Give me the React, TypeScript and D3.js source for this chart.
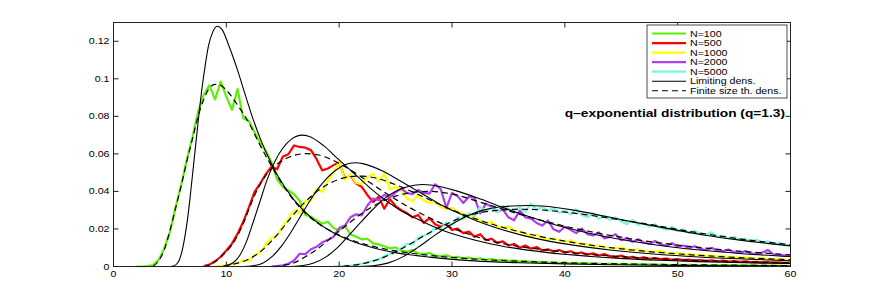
import * as d3 from 'd3';

// ---- data ----
const xTicks = [0, 10, 20, 30, 40, 50, 60];
const yTicks = [0, 0.02, 0.04, 0.06, 0.08, 0.1, 0.12];
const yTickLabels = ['0', '0.02', '0.04', '0.06', '0.08', '0.1', '0.12'];
const seriesNames = ['N=100', 'N=500', 'N=1000', 'N=2000', 'N=5000'];
const seriesColors = ['#5cf000', '#ff0000', '#ffff00', '#b23cf2', '#7df4dc'];
const title = 'q\u2013exponential distribution (q=1.3)';

// empirical histograms, bins every 0.5 starting at empStart
const binStep = 0.5;
const empStart = [2, 8, 9, 14, 19.5];
const emp100 = [
  0, 0, 0.0002, 0.0008, 0.0035, 0.0095, 0.0185, 0.0315, 0.0435, 0.057,
  0.069, 0.0825, 0.0915, 0.0965, 0.089, 0.0985, 0.0905, 0.0835, 0.0945, 0.079,
  0.0775, 0.0715, 0.066, 0.0615, 0.0555, 0.0465, 0.0425, 0.0405, 0.0385, 0.035,
  0.0275, 0.0265, 0.0245, 0.0228, 0.0238, 0.0205, 0.0192, 0.0215, 0.0172, 0.0158,
  0.0145, 0.0148, 0.0123, 0.0118, 0.0108, 0.0097, 0.0102, 0.0085, 0.0079, 0.0088,
  0.007, 0.0066, 0.0072, 0.0058, 0.0055, 0.006, 0.0049, 0.0052, 0.0044, 0.0047,
  0.004, 0.0043, 0.0036, 0.0039, 0.0033, 0.0035, 0.003, 0.0032, 0.0027, 0.0029,
  0.0026, 0.0023, 0.0025, 0.0021, 0.0022, 0.0019, 0.0021, 0.0017, 0.0019, 0.0016,
  0.0017, 0.0015, 0.0016, 0.0013, 0.0015, 0.0012, 0.0014, 0.0011, 0.0012, 0.0011,
  0.001, 0.0011, 0.0009, 0.001, 0.0009, 0.0008, 0.001, 0.0008, 0.0009, 0.0007,
  0.0008, 0.0007, 0.0006, 0.0008, 0.0006, 0.0007, 0.0005, 0.0006, 0.0005, 0.0006,
  0.0005, 0.0004, 0.0005, 0.0004, 0.0005, 0.0004, 0.0004,
];
const emp500 = [
  0.0002, 0.001, 0.0028, 0.0052, 0.0085, 0.0122, 0.0175, 0.0238,
  0.0315, 0.0398, 0.0442, 0.0492, 0.0532, 0.0518, 0.0585, 0.0598, 0.0645, 0.0637,
  0.0633, 0.062, 0.0572, 0.0512, 0.0522, 0.054, 0.0556, 0.0468, 0.0487, 0.0442,
  0.0424, 0.0381, 0.0343, 0.0371, 0.0308, 0.0358, 0.0322, 0.03, 0.0285, 0.0262,
  0.0275, 0.0232, 0.0258, 0.0225, 0.0212, 0.0226, 0.0195, 0.0202, 0.0178, 0.0186,
  0.0158, 0.0172, 0.014, 0.0148, 0.0126, 0.0134, 0.0112, 0.012, 0.01, 0.0112,
  0.0095, 0.0104, 0.0085, 0.0092, 0.008, 0.0088, 0.0074, 0.0081, 0.0068, 0.0075,
  0.0063, 0.007, 0.0058, 0.0066, 0.0055, 0.005, 0.0058, 0.0046, 0.0052, 0.0043,
  0.0049, 0.0041, 0.0045, 0.0039, 0.0042, 0.0036, 0.0039, 0.0034, 0.0037, 0.0032,
  0.0034, 0.003, 0.0033, 0.0028, 0.0031, 0.0026, 0.0029, 0.0025, 0.0027, 0.0023,
  0.0025, 0.0022, 0.0024, 0.0021, 0.0022, 0.002, 0.0021,
];
const emp1000 = [
  0, 0.0003, 0.0007, 0.0012, 0.0018, 0.0032, 0.0028, 0.0062, 0.0075, 0.0118,
  0.0152, 0.0165, 0.0215, 0.0252, 0.0298, 0.0285, 0.0348, 0.0352, 0.0415, 0.0398,
  0.0455, 0.0502, 0.0558, 0.0462, 0.0492, 0.0445, 0.0438, 0.0476, 0.0494, 0.0452,
  0.0496, 0.0412, 0.0425, 0.0405, 0.0362, 0.0348, 0.0382, 0.0352, 0.0338, 0.0345,
  0.0318, 0.0305, 0.0312, 0.0292, 0.028, 0.0268, 0.0262, 0.0245, 0.0228, 0.0238,
  0.0215, 0.0208, 0.0212, 0.0192, 0.0185, 0.0178, 0.016, 0.0168, 0.0152, 0.0145,
  0.015, 0.0138, 0.0132, 0.014, 0.0125, 0.0122, 0.0118, 0.011, 0.0112, 0.0104,
  0.01, 0.0098, 0.0102, 0.009, 0.0088, 0.0092, 0.0082, 0.008, 0.0078, 0.0083,
  0.0072, 0.007, 0.0074, 0.0064, 0.0066, 0.006, 0.0063, 0.0057, 0.0058, 0.0054,
  0.0055, 0.005, 0.0052, 0.0047, 0.0049, 0.0045, 0.0041, 0.0046, 0.004, 0.0038,
  0.0041, 0.0035, 0.0037,
];
const emp2000 = [
  0, 0.0002, 0.0006, 0.0015, 0.0032, 0.0068, 0.0066, 0.0092, 0.0105, 0.0128,
  0.0142, 0.0158, 0.0205, 0.0218, 0.0262, 0.0278, 0.0272, 0.0325, 0.0362, 0.0355,
  0.0382, 0.0368, 0.0395, 0.0415, 0.0392, 0.0385, 0.0408, 0.0392, 0.0388, 0.0438,
  0.0412, 0.0312, 0.0392, 0.0375, 0.0338, 0.0372, 0.0365, 0.0282, 0.0335, 0.0318,
  0.0292, 0.0305, 0.0262, 0.0246, 0.0298, 0.0262, 0.0255, 0.0232, 0.0218, 0.0245,
  0.0198, 0.0185, 0.0212, 0.0195, 0.0178, 0.0202, 0.0172, 0.0165, 0.0182, 0.015,
  0.0158, 0.0172, 0.014, 0.0152, 0.0132, 0.0145, 0.0128, 0.012, 0.0136, 0.0118,
  0.011, 0.0124, 0.0105, 0.0112, 0.0098, 0.0108, 0.0094, 0.0088, 0.01, 0.0085,
  0.0082, 0.009, 0.0076, 0.0072, 0.0082, 0.007, 0.0066, 0.0074, 0.0088, 0.0064,
  0.0062, 0.0058, 0.0056,
];
const emp5000 = [
  0, 0.0002, 0.0004, 0.0005, 0.0009, 0.0016, 0.0022, 0.0032, 0.0038, 0.0055,
  0.0068, 0.0082, 0.0098, 0.0122, 0.0118, 0.0152, 0.0165, 0.0172, 0.0205, 0.0198,
  0.0235, 0.0222, 0.0262, 0.0252, 0.0285, 0.0268, 0.0318, 0.0295, 0.0312, 0.0288,
  0.0322, 0.0305, 0.0298, 0.0315, 0.0292, 0.0335, 0.0302, 0.0318, 0.0296, 0.0312,
  0.0285, 0.0298, 0.0278, 0.0305, 0.0275, 0.0262, 0.0284, 0.0255, 0.0268, 0.0248,
  0.0262, 0.024, 0.0225, 0.0248, 0.0222, 0.023, 0.0212, 0.0225, 0.0205, 0.0196,
  0.0212, 0.0188, 0.0198, 0.0178, 0.019, 0.0172, 0.0168, 0.0182, 0.0158, 0.0165,
  0.015, 0.0158, 0.0142, 0.0148, 0.0135, 0.0142, 0.0128, 0.0134, 0.012, 0.0126,
  0.0112, 0.0115,
];
const empirical = [emp100, emp500, emp1000, emp2000, emp5000];

// limiting densities (solid black), [x, density]
const lim100 = [[0, 0], [4.8, 0], [5.3, 0.0003], [5.7, 0.002], [6.0, 0.0065], [6.3, 0.015], [6.6, 0.027], [6.9, 0.043], [7.2, 0.06], [7.5, 0.077], [7.8, 0.093], [8.1, 0.106], [8.4, 0.117], [8.8, 0.125], [9.2, 0.128], [9.6, 0.1265], [10.2, 0.118], [11.0, 0.1045], [11.7, 0.091], [12.4, 0.078], [13.1, 0.0668], [13.9, 0.056], [14.6, 0.048], [16.0, 0.0355], [17.5, 0.0262], [19, 0.0197], [21, 0.0138], [23, 0.01], [25, 0.0074], [28, 0.005], [32, 0.003], [36, 0.002], [40, 0.0014], [45, 0.0009], [50, 0.0006], [55, 0.0004], [60, 0.0003]];
const lim500 = [[0, 0], [9.6, 0], [10.0, 0.0005], [10.6, 0.002], [11.2, 0.006], [11.8, 0.0135], [12.4, 0.024], [13.0, 0.035], [13.6, 0.046], [14.3, 0.056], [15.0, 0.063], [15.8, 0.068], [16.7, 0.07], [17.3, 0.0694], [18.6, 0.0645], [19.9, 0.0573], [21.3, 0.0497], [22.6, 0.0426], [23.9, 0.0362], [25.2, 0.0308], [26.6, 0.0262], [29.2, 0.0192], [31.9, 0.0143], [34.5, 0.0108], [38.5, 0.0074], [42, 0.0055], [45.2, 0.0042], [48.5, 0.0033], [51.8, 0.0026], [55, 0.0021], [58.5, 0.0017], [60, 0.0016]];
const lim1000 = [[0, 0], [11.5, 0], [12.5, 0.0005], [13.3, 0.002], [14.1, 0.0055], [14.9, 0.011], [15.7, 0.018], [16.5, 0.026], [17.3, 0.034], [18.1, 0.0412], [18.9, 0.047], [19.7, 0.0513], [20.5, 0.0542], [21.4, 0.0553], [22.1, 0.0548], [23.8, 0.051], [25.5, 0.0453], [27.2, 0.0393], [28.8, 0.0336], [30.5, 0.0286], [32.2, 0.0243], [33.9, 0.0207], [37.3, 0.0151], [40.6, 0.0115], [44, 0.0088], [49, 0.0061], [53, 0.0047], [57, 0.0037], [60, 0.0031]];
const lim2000 = [[0, 0], [15.5, 0], [16.8, 0.0005], [17.8, 0.002], [18.8, 0.005], [19.8, 0.0098], [20.8, 0.0162], [21.9, 0.0235], [23.0, 0.0305], [24.0, 0.0362], [25.1, 0.0404], [26.2, 0.0428], [27.4, 0.0437], [28.3, 0.0433], [30.4, 0.0403], [32.6, 0.0358], [34.7, 0.031], [36.8, 0.0266], [38.9, 0.0226], [41.1, 0.0192], [43.2, 0.0164], [47.5, 0.012], [51.7, 0.0089], [56, 0.0067], [60, 0.0053]];
const lim5000 = [[0, 0], [21.5, 0], [23, 0.0004], [24.3, 0.0018], [25.6, 0.005], [27.0, 0.0103], [28.4, 0.0163], [29.9, 0.0222], [31.3, 0.0268], [32.7, 0.0299], [34.2, 0.0317], [36.8, 0.0325], [38.0, 0.0322], [40.9, 0.0299], [43.7, 0.0266], [46.6, 0.0231], [49.5, 0.0198], [52.3, 0.0168], [55.2, 0.0143], [58.1, 0.0122], [60, 0.011]];
const limiting = [lim100, lim500, lim1000, lim2000, lim5000];

// finite size theoretical densities (dashed black)
const fin100 = [[0, 0], [3.3, 0], [3.7, 0.001], [4.0, 0.003], [4.5, 0.009], [5, 0.019], [5.5, 0.031], [6, 0.043], [6.5, 0.056], [7, 0.068], [7.5, 0.08], [8, 0.089], [8.5, 0.095], [9, 0.097], [9.5, 0.0965], [10, 0.094], [11, 0.086], [12, 0.0765], [13, 0.0645], [14, 0.0535], [15, 0.0435], [16, 0.035], [17, 0.0285], [18, 0.0235], [19, 0.0197], [20, 0.0167], [21, 0.0143], [22, 0.0123], [23, 0.0107], [24, 0.0094], [25, 0.0083], [27, 0.0066], [30, 0.0048], [33, 0.0036], [36, 0.0028], [40, 0.002], [45, 0.0014], [50, 0.001], [55, 0.0007], [60, 0.0005]];
const fin500 = [[0, 0], [8, 0], [8.5, 0.001], [9, 0.0025], [9.5, 0.005], [10, 0.008], [10.5, 0.0115], [11, 0.0165], [11.5, 0.0228], [12, 0.0305], [12.5, 0.0378], [13, 0.0438], [13.5, 0.0485], [14, 0.052], [15, 0.0565], [16, 0.0592], [17, 0.0601], [18, 0.0596], [19, 0.0578], [20, 0.0549], [21, 0.0515], [22, 0.0476], [23, 0.0436], [24, 0.0396], [25, 0.0358], [26, 0.0322], [27, 0.029], [28, 0.026], [30, 0.0205], [32, 0.0162], [34, 0.0128], [36, 0.0106], [38, 0.009], [40, 0.0077], [43, 0.0061], [46, 0.0049], [50, 0.0037], [55, 0.0027], [60, 0.002]];
const fin1000 = [[0, 0], [9.5, 0], [10, 0.0005], [11, 0.0018], [12, 0.004], [13, 0.0078], [14, 0.0135], [15, 0.0205], [16, 0.028], [17, 0.0345], [18, 0.0398], [19, 0.0438], [20, 0.0465], [21, 0.0479], [22, 0.0482], [23, 0.0474], [24, 0.0458], [25, 0.0436], [26, 0.0411], [27, 0.0384], [28, 0.0356], [29, 0.0328], [30, 0.0302], [32, 0.0256], [34, 0.0217], [36, 0.0185], [38, 0.0158], [40, 0.0135], [43, 0.0108], [46, 0.0088], [50, 0.0067], [55, 0.0049], [60, 0.0036]];
const fin2000 = [[0, 0], [14, 0], [15, 0.0005], [16, 0.002], [17, 0.0052], [18, 0.009], [19, 0.0138], [20, 0.0188], [21, 0.0237], [22, 0.0282], [23, 0.0321], [24, 0.0352], [25, 0.0375], [26, 0.039], [27, 0.0398], [28, 0.04], [29, 0.0396], [30, 0.0386], [31, 0.0371], [32, 0.0352], [34, 0.0315], [36, 0.0278], [38, 0.0245], [40, 0.0215], [42, 0.0189], [44, 0.0166], [46, 0.0146], [48, 0.0129], [50, 0.0114], [53, 0.0095], [56, 0.0079], [60, 0.0062]];
const fin5000 = [[0, 0], [20, 0], [21, 0.0005], [22, 0.0014], [23, 0.0029], [24, 0.005], [25, 0.0078], [26, 0.011], [27, 0.0145], [28, 0.018], [29, 0.0212], [30, 0.024], [31, 0.0263], [32, 0.028], [33, 0.0292], [34, 0.0299], [35, 0.0303], [36, 0.0305], [37, 0.0304], [38, 0.0301], [40, 0.029], [42, 0.0275], [44, 0.0257], [46, 0.0238], [48, 0.0219], [50, 0.0198], [52, 0.0178], [54, 0.016], [56, 0.0143], [58, 0.0129], [60, 0.0116]];
const finite = [fin100, fin500, fin1000, fin2000, fin5000];

// ---- layout ----
const W = 872, H = 300;
const left = 113.5, right = 790.5, top = 22.5, bottom = 266.5;
const FONT = '"Liberation Sans", Arial, Helvetica, sans-serif';
const SX = 1.25; // the figure is stretched horizontally

function SText(props: any) {
  const { x, y, anchor = 'start', size = 8.5, bold = false, children } = props;
  return (
    <g transform={`translate(${x},${y}) scale(${SX},1)`}>
      <text fontSize={size} fontFamily={FONT} textAnchor={anchor} fontWeight={bold ? 'bold' : 'normal'} fill="#000">
        {children}
      </text>
    </g>
  );
}

export default function App() {
  const x = d3.scaleLinear().domain([0, 60]).range([left, right]);
  const y = d3.scaleLinear().domain([0, 0.13]).range([bottom, top]);

  const smooth = d3.line<number[]>().x(d => x(d[0])).y(d => y(d[1])).curve(d3.curveMonotoneX);
  const jagged = d3.line<number[]>().x(d => x(d[0])).y(d => y(d[1]));

  const empPts = empirical.map((vals, k) => vals.map((v, i) => [empStart[k] + i * binStep, v]));

  const tick = 5;
  const legendX = 647, legendY = 25, legendW = 140, legendH = 73;
  const legendRows = [...seriesNames, 'Limiting dens.', 'Finite size th. dens.'];

  return (
    <svg width={W} height={H} style={{ position: 'absolute', left: 0, top: 0, background: '#fff' }}>
      <rect x={0} y={0} width={W} height={H} fill="#fff" />
      <clipPath id="plotclip">
        <rect x={left} y={top} width={right - left} height={bottom - top + 1} />
      </clipPath>
      <g clipPath="url(#plotclip)">
        {empPts.map((pts, k) => (
          <path key={'e' + k} d={jagged(pts) || ''} fill="none" stroke={seriesColors[k]} strokeWidth={2.2} strokeLinejoin="round" />
        ))}
        {limiting.map((pts, k) => (
          <path key={'l' + k} d={smooth(pts) || ''} fill="none" stroke="#000" strokeWidth={1.1} />
        ))}
        {finite.map((pts, k) => (
          <path key={'f' + k} d={smooth(pts) || ''} fill="none" stroke="#000" strokeWidth={1.2} strokeDasharray="6,4" />
        ))}
      </g>

      {/* axes box and ticks */}
      <rect x={left} y={top} width={right - left} height={bottom - top} fill="none" stroke="#222" strokeWidth={1} />
      {xTicks.map(t => (
        <g key={'xt' + t}>
          <line x1={x(t)} x2={x(t)} y1={bottom} y2={bottom - tick} stroke="#222" />
          <line x1={x(t)} x2={x(t)} y1={top} y2={top + tick} stroke="#222" />
          <SText x={x(t)} y={bottom + 10.5} anchor="middle">{String(t)}</SText>
        </g>
      ))}
      {yTicks.map((t, i) => (
        <g key={'yt' + i}>
          <line x1={left} x2={left + tick} y1={y(t)} y2={y(t)} stroke="#222" />
          <line x1={right} x2={right - tick} y1={y(t)} y2={y(t)} stroke="#222" />
          <SText x={left - 4} y={y(t) + 3} anchor="end">{yTickLabels[i]}</SText>
        </g>
      ))}

      {/* legend */}
      <rect x={legendX} y={legendY} width={legendW} height={legendH} fill="#fff" stroke="#222" strokeWidth={0.8} />
      {legendRows.map((name, i) => {
        const ly = 33.5 + i * 9.55;
        const isEmp = i < seriesNames.length;
        return (
          <g key={'lg' + i}>
            <line x1={652} x2={686} y1={ly} y2={ly}
              stroke={isEmp ? seriesColors[i] : '#000'}
              strokeWidth={isEmp ? 2.2 : 1.1}
              strokeDasharray={i === legendRows.length - 1 ? '6,4' : undefined} />
            <SText x={690} y={ly + 3}>{name}</SText>
          </g>
        );
      })}

      <SText x={785} y={117} anchor="end" size={11} bold>{title}</SText>
    </svg>
  );
}
